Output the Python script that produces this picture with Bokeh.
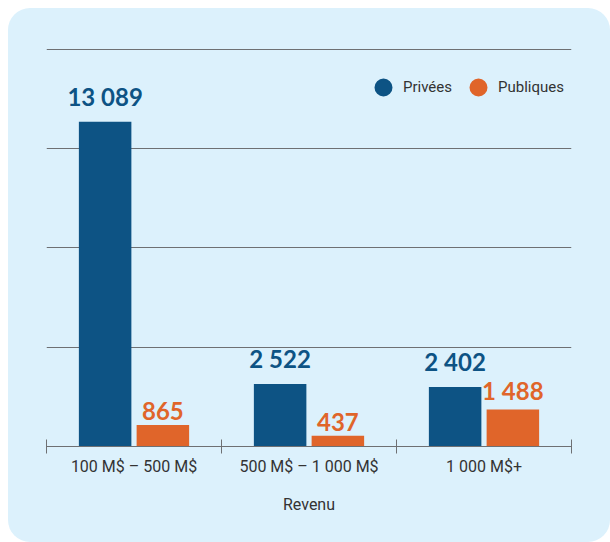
import numpy as np
from bokeh.plotting import figure
from bokeh.models import ColumnDataSource, FixedTicker, Legend, LegendItem, SingleIntervalTicker
from bokeh.transform import dodge
from bokeh.core.properties import value
from bokeh.embed import file_html
from bokeh.resources import INLINE

categories = ["100 M$ – 500 M$", "500 M$ – 1 000 M$", "1 000 M$+"]
privees = [13089, 2522, 2402]
publiques = [865, 437, 1488]
series_names = ["Privées", "Publiques"]
axis_title = "Revenu"

BLUE = "#0d5384"
ORANGE = "#e0652a"
GRID = "#6e7073"
TEXT = "#333333"
BG = "#dcf1fc"

def fmt(v):
    return f"{v:,}".replace(",", " ")

xpos = np.arange(len(categories)) + 0.5
src = ColumnDataSource(dict(
    x=xpos, cat=categories, priv=privees, pub=publiques,
    priv_lbl=[fmt(v) for v in privees], pub_lbl=[fmt(v) for v in publiques],
))

p = figure(width=602, height=534, x_range=(0, 3), y_range=(0, 16040),
           output_backend="svg", toolbar_location=None,
           min_border_left=38, min_border_right=39, min_border_top=40, min_border_bottom=96)
p.styles = {"border-radius": "22px", "overflow": "hidden", "background-color": BG,
            "margin-left": "8px", "margin-top": "8px"}
p.background_fill_color = None
p.border_fill_color = None
p.outline_line_color = None

p.vbar(x=dodge("x", -0.165, range=p.x_range), top="priv", width=0.3, source=src,
       fill_color=BLUE, line_color=None)
p.vbar(x=dodge("x", 0.165, range=p.x_range), top="pub", width=0.3, source=src,
       fill_color=ORANGE, line_color=None)

p.text(x=dodge("x", -0.165, range=p.x_range), y="priv", text="priv_lbl", source=src,
       text_align="center", text_baseline="bottom", y_offset=-11,
       text_font=value("Lato"), text_font_style="bold", text_font_size="24px", text_color=BLUE)
p.text(x=dodge("x", 0.165, range=p.x_range), y="pub", text="pub_lbl", source=src,
       text_align="center", text_baseline="bottom", y_offset=-5,
       text_font=value("Lato"), text_font_style="bold", text_font_size="24px", text_color=ORANGE)

# axes
p.yaxis.visible = False
p.ygrid.ticker = SingleIntervalTicker(interval=4000)
p.ygrid.grid_line_color = GRID
p.ygrid.grid_line_width = 1
p.xgrid.grid_line_color = None

xa = p.xaxis[0]
xa.ticker = FixedTicker(ticks=list(xpos), minor_ticks=list(range(len(categories) + 1)))
xa.major_label_overrides = {float(x): c for x, c in zip(xpos, categories)}
xa.major_tick_line_color = None
xa.major_tick_in = 0
xa.major_tick_out = 0
xa.minor_tick_line_color = GRID
xa.minor_tick_in = 7
xa.minor_tick_out = 7
xa.axis_line_color = GRID
xa.major_label_standoff = 3
xa.major_label_text_font = "Roboto"
xa.major_label_text_font_size = "16px"
xa.major_label_text_color = TEXT
xa.axis_label = axis_title
xa.axis_label_standoff = 16
xa.axis_label_text_font = "Roboto"
xa.axis_label_text_font_size = "16px"
xa.axis_label_text_font_style = "normal"
xa.axis_label_text_color = TEXT

# legend markers (legend only, nothing plotted)
l1 = p.scatter(x=[np.nan], y=[np.nan], marker="circle", fill_color=BLUE, line_color=BLUE, line_width=2)
l2 = p.scatter(x=[np.nan], y=[np.nan], marker="circle", fill_color=ORANGE, line_color=ORANGE, line_width=2)
legend = Legend(items=[LegendItem(label=series_names[0], renderers=[l1]),
                       LegendItem(label=series_names[1], renderers=[l2])],
                orientation="horizontal", location=(317, 339),
                glyph_width=40, glyph_height=40, label_standoff=0, spacing=6,
                padding=0, margin=0, background_fill_alpha=0, border_line_color=None,
                label_text_font="Roboto", label_text_font_size="15px",
                label_text_color=TEXT)
p.add_layout(legend, "center")

open("out.html", "w").write(file_html(p, INLINE))
